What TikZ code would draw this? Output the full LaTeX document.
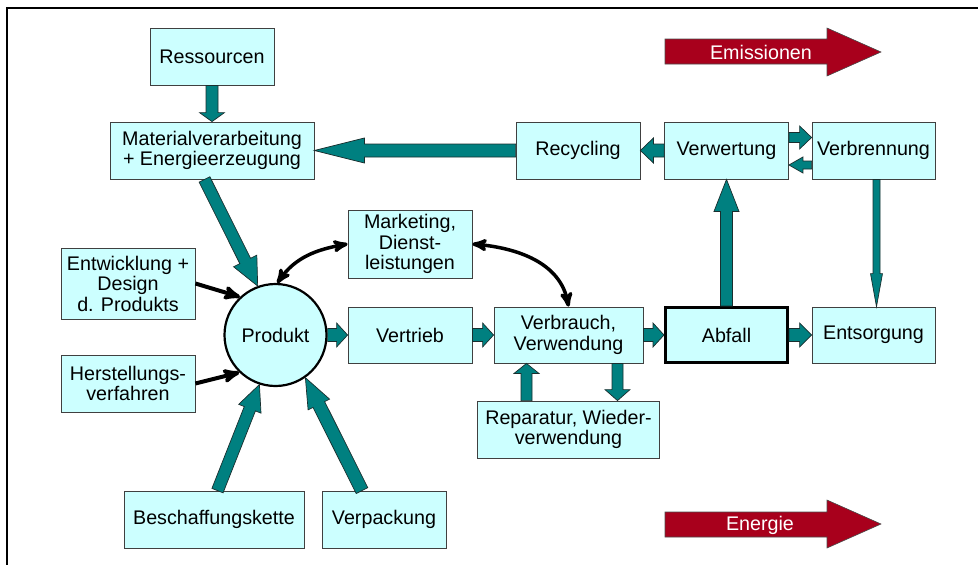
\documentclass[tikz,border=0pt]{standalone}
\usepackage{fontspec}
\setmainfont{Liberation Sans}
\usetikzlibrary{positioning, arrows, calc}
\definecolor{boxfill}{HTML}{CCFFFF}
\definecolor{boxline}{HTML}{404040}
\definecolor{tealfill}{HTML}{008080}
\definecolor{tealline}{HTML}{1A2E2E}
\definecolor{redfill}{HTML}{A8001C}
\tikzset{
        >=stealth', % bold heads on the black arrows
        box/.style={draw=boxline, fill=boxfill, line width=0.8pt, align=center,
                inner sep=1pt, font=\fontsize{19.7}{20.5}\selectfont},
        fatarrow/.style={fill=tealfill, draw=tealline, line width=0.7pt},
        blackarrow/.style={->, line width=4pt},
        bentarrow/.style={<->, line width=3.5pt},
        redarrow/.style={fill=redfill, draw=black!70, line width=0.6pt},
        redtext/.style={text=white, font=\fontsize{19.7}{20.5}\selectfont}
        }
% teal block arrow: start, tip, half shaft, half head, head length
\newcommand{\fatarrow}[5]{%
  \coordinate (fa-s) at (#1);
  \coordinate (fa-t) at (#2);
  \coordinate (fa-b) at ($(fa-t)!#5!(fa-s)$);
  \filldraw[fatarrow] ($(fa-s)!#3!90:(fa-t)$) -- ($(fa-b)!#3!90:(fa-t)$)
    -- ($(fa-b)!#4!90:(fa-t)$) -- (fa-t) -- ($(fa-b)!#4!-90:(fa-t)$)
    -- ($(fa-b)!#3!-90:(fa-t)$) -- ($(fa-s)!#3!-90:(fa-t)$) -- cycle;
}

\begin{document}
\begin{tikzpicture}[x=1pt, y=1pt]
        \useasboundingbox (0,0) rectangle (978,-565);
        \draw[line width=2pt] (7,-565) -- (7,-7.5) -- (978,-7.5);

        \node[box, circle, draw=black, line width=2.2pt, minimum size=102pt] (prod) at (275.5,-335) {Produkt};
        \node[box, minimum width=124pt, minimum height=56pt, right of=prod, node distance=134.5pt] (vert) {Vertrieb};
        \node[box, minimum width=149pt, minimum height=56pt, right of=vert, node distance=158.5pt] (verbr) {Verbrauch,\\Verwendung};
        \node[box, draw=black, line width=3pt, minimum width=122pt, minimum height=55pt, right of=verbr, node distance=158pt] (abf) {Abfall};
        \node[box, minimum width=123pt, minimum height=56pt, right of=abf, node distance=147pt] (ents) {Entsorgung};
        \node[box, minimum width=124pt, minimum height=57pt, above of=abf, node distance=184.5pt] (verw) {Verwertung};
        \node[box, minimum width=124pt, minimum height=57pt, left of=verw, node distance=148.5pt] (recy) {Recycling};
        \node[box, minimum width=123pt, minimum height=57pt, right of=verw, node distance=147pt] (verbn) {Verbrennung};
        \node[box, minimum width=182pt, minimum height=57pt, below of=verbr, node distance=94.5pt] (rep) {Reparatur, Wieder-\\verwendung};

        \node[box, minimum width=124pt, minimum height=57pt] (res) at (212,-56.5) {Ressourcen};
        \node[box, minimum width=204pt, minimum height=57pt, below of=res, node distance=94pt] (mat) {Materialverarbeitung\\+ Energieerzeugung};
        \node[box, minimum width=124pt, minimum height=68pt] (mark) at (410,-244) {Marketing,\\Dienst-\\leistungen};
        \node[box, minimum width=134pt, minimum height=71pt] (entw) at (128,-283.5) {Entwicklung +\\Design\\d. Produkts};
        \node[box, minimum width=134pt, minimum height=57pt, below of=entw, node distance=100pt] (herst) {Herstellungs-\\verfahren};
        \node[box, minimum width=180pt, minimum height=57pt] (besch) at (214,-519.5) {Beschaffungskette};
        \node[box, minimum width=124pt, minimum height=57pt] (verp) at (384,-519.5) {Verpackung};

        \fatarrow{res.south}{mat.north}{6pt}{12.5pt}{9pt}
        \fatarrow{recy.west}{mat.east}{6.5pt}{12.5pt}{50pt}
        \fatarrow{[xshift=-7.5pt]mat.south}{prod.110}{6pt}{13pt}{28pt}
        \fatarrow{verw.west}{recy.east}{6.5pt}{12.5pt}{13pt}
        \fatarrow{[yshift=13pt]verw.east}{[yshift=13pt]verbn.west}{5pt}{11.5pt}{12pt}
        \fatarrow{[yshift=-14.5pt]verbn.west}{[yshift=-14.5pt]verw.east}{4pt}{8pt}{14pt}
        \fatarrow{abf.north}{verw.south}{6pt}{12.5pt}{32pt}
        \fatarrow{[xshift=3pt]verbn.south}{[xshift=3pt]ents.north}{3.5pt}{6pt}{33pt}
        \fatarrow{prod.east}{vert.west}{6.5pt}{12pt}{11pt}
        \fatarrow{vert.east}{verbr.west}{6.5pt}{12pt}{11pt}
        \fatarrow{verbr.east}{abf.west}{6.5pt}{12pt}{11pt}
        \fatarrow{abf.east}{ents.west}{6.5pt}{12pt}{12pt}
        \fatarrow{[xshift=-42pt]rep.north}{[xshift=-42pt]verbr.south}{5.5pt}{12.5pt}{10pt}
        \fatarrow{[xshift=49pt]verbr.south}{[xshift=49pt]rep.north}{5.5pt}{12.5pt}{11pt}
        \fatarrow{[xshift=3.5pt]besch.north}{prod.252}{6pt}{12pt}{26pt}
        \fatarrow{[xshift=-22pt]verp.north}{prod.305}{6.5pt}{12pt}{30pt}

        \draw[blackarrow] (entw.east) -- (prod.133);
        \draw[blackarrow] (herst.east) -- (prod.226);
        \draw[bentarrow] (prod.88) to[out=55, in=190] (mark.west);
        \draw[bentarrow] (mark.east) to[out=-5, in=100] (verbr.north);

        % red arrows
        \draw[redarrow] (665,-39) -- (827,-39) -- (827,-28) -- (881,-52) -- (827,-76) -- (827,-64) -- (665,-64) -- cycle;
        \node[redtext] (emis) at (761,-52) {Emissionen};
        \draw[redarrow] (665,-512) -- (827,-512) -- (827,-500) -- (881,-524) -- (827,-548) -- (827,-537) -- (665,-537) -- cycle;
        \node[redtext] (energ) at (760,-525) {Energie};
\end{tikzpicture}
\end{document}
